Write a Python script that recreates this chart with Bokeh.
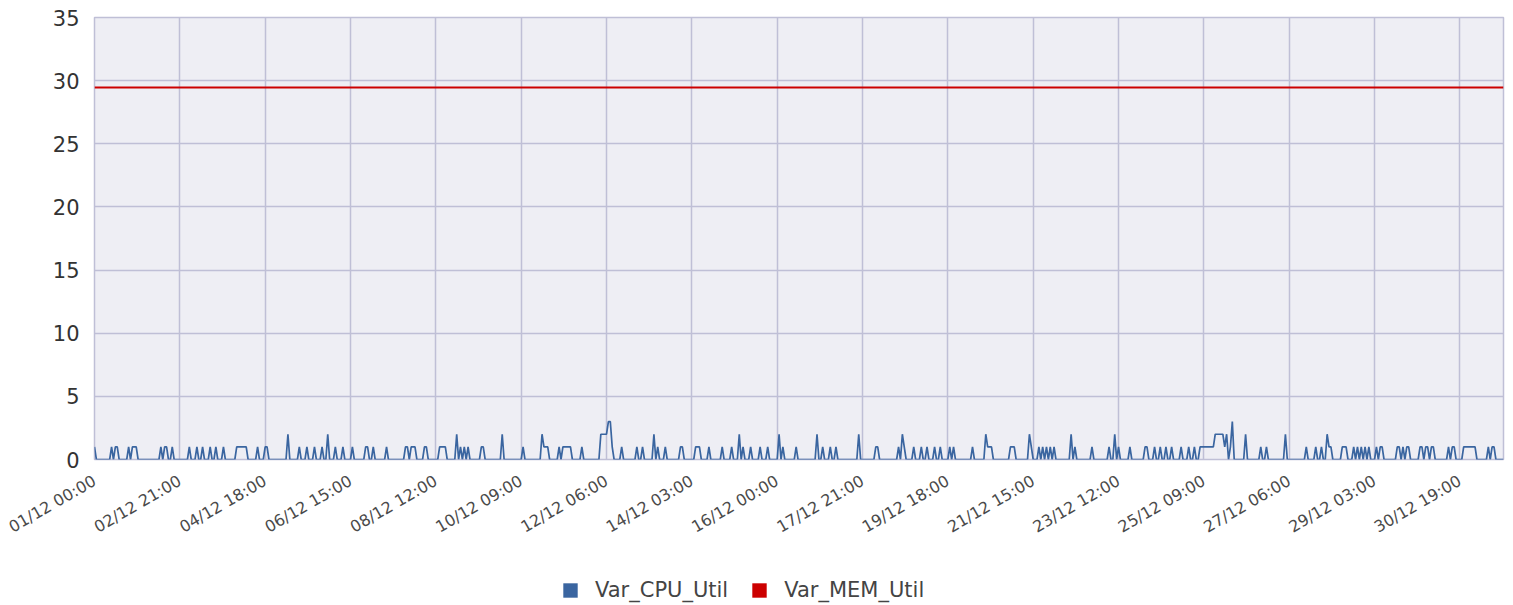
import math
from bokeh.plotting import figure
from bokeh.layouts import column
from bokeh.models import Range1d, FixedTicker, Legend, LegendItem
from bokeh.embed import file_html
from bokeh.resources import INLINE

# ---------------- data ----------------
N_POINTS = 744                      # hourly samples shown on the category axis
cpu_spike_idx = [
    0, 9, 11, 12, 18, 20, 21, 22, 35, 37, 38, 41,
    50, 54, 57, 61, 64, 68, 75, 76, 77, 78, 79, 80, 86, 90, 91,
    102, 108, 112, 116, 120, 123, 127, 131, 136, 143, 144, 147, 154,
    164, 165, 167, 168, 169, 174, 175, 182, 183, 184, 185,
    191, 193, 195, 197, 204, 205, 215, 226, 236, 237, 238, 239, 245,
    247, 248, 249, 250, 251, 257, 267, 268, 269, 270, 271, 272, 273,
    278, 286, 289, 295, 297, 301, 309, 310, 317, 318, 319, 324, 331, 336,
    340, 342, 346, 351, 355, 361, 363, 370, 381, 384, 388, 391, 403,
    412, 413, 424, 426, 427, 432, 436, 439, 443, 446, 451, 453,
    463, 470, 471, 472, 473, 483, 484, 485, 493, 494,
    498, 500, 502, 504, 506, 515, 517, 526, 535, 538, 540, 546,
    554, 555, 559, 562, 565, 568, 573, 577, 580,
    583, 584, 585, 586, 587, 588, 589, 590, 591, 592, 593, 594, 595,
    596, 597, 599, 600, 607, 615, 618, 628, 639, 644, 647, 650, 651, 652,
    658, 659, 660, 664, 666, 668, 670, 672, 676, 678, 679,
    687, 688, 690, 692, 693, 699, 700, 702, 703, 705, 706,
    714, 716, 717, 722, 723, 724, 725, 726, 727, 728, 735, 737, 738,
]
cpu_spike_val = [
    1, 1, 1, 1, 1, 1, 1, 1, 1, 1, 1, 1,
    1, 1, 1, 1, 1, 1, 1, 1, 1, 1, 1, 1, 1, 1, 1,
    2, 1, 1, 1, 1, 2, 1, 1, 1, 1, 1, 1, 1,
    1, 1, 1, 1, 1, 1, 1, 1, 1, 1, 1,
    2, 1, 1, 1, 1, 1, 2, 1, 2, 1, 1, 1, 1,
    1, 1, 1, 1, 1, 1, 2, 2, 2, 2, 3, 3, 1,
    1, 1, 1, 2, 1, 1, 1, 1, 1, 1, 1, 1, 1, 1,
    2, 1, 1, 1, 1, 2, 1, 1, 2, 1, 1, 1, 2,
    1, 1, 1, 2, 1, 1, 1, 1, 1, 1, 1, 1,
    1, 2, 1, 1, 1, 1, 1, 1, 2, 1,
    1, 1, 1, 1, 1, 2, 1, 1, 1, 2, 1, 1,
    1, 1, 1, 1, 1, 1, 1, 1, 1,
    1, 1, 1, 1, 1, 1, 1, 1, 2, 2, 2, 2, 2,
    1, 2, 1, 3, 2, 1, 1, 2, 1, 1, 1, 2, 1, 1,
    1, 1, 1, 1, 1, 1, 1, 1, 1, 1, 1,
    1, 1, 1, 1, 1, 1, 1, 1, 1, 1, 1,
    1, 1, 1, 1, 1, 1, 1, 1, 1, 1, 1, 1, 1,
]
mem_level = 29.45
x_tick_labels = [
    "01/12 00:00", "02/12 21:00", "04/12 18:00", "06/12 15:00",
    "08/12 12:00", "10/12 09:00", "12/12 06:00", "14/12 03:00",
    "16/12 00:00", "17/12 21:00", "19/12 18:00", "21/12 15:00",
    "23/12 12:00", "25/12 09:00", "27/12 06:00", "29/12 03:00",
    "30/12 19:00",
]
x_tick_step = 45                    # one label every 45 samples
y_ticks = [0, 5, 10, 15, 20, 25, 30, 35]
series_names = ["Var_CPU_Util", "Var_MEM_Util"]

# ---------------- build series ----------------
x = list(range(N_POINTS))
cpu = [0.0] * N_POINTS
for i, v in zip(cpu_spike_idx, cpu_spike_val):
    cpu[i] = float(v)
mem = [mem_level] * N_POINTS
x_ticks = [i * x_tick_step for i in range(len(x_tick_labels))]

CPU_COLOR = "#3a65a0"
MEM_COLOR = "#cc0000"
GRID = "#bfbfd6"
FONT = "DejaVu Sans"

# ---------------- main chart ----------------
p = figure(width=1513, height=575,
           x_range=Range1d(0, N_POINTS - 1), y_range=Range1d(0, 35),
           output_backend="svg", toolbar_location=None,
           min_border_left=94, min_border_right=10,
           min_border_top=17, min_border_bottom=116)
p.background_fill_color = "#eeeef4"
p.border_fill_color = "white"
p.outline_line_color = GRID
p.outline_line_width = 1.5

p.line(x, cpu, line_color=CPU_COLOR, line_width=1.7)
p.line(x, mem, line_color=MEM_COLOR, line_width=2)

p.xaxis.ticker = FixedTicker(ticks=x_ticks)
p.xaxis.major_label_overrides = {t: lab for t, lab in zip(x_ticks, x_tick_labels)}
p.xaxis.major_label_orientation = math.pi / 6
p.xaxis.major_label_text_font = FONT
p.xaxis.major_label_text_font_size = "16px"
p.xaxis.major_label_text_color = "#4a4a4a"
p.xaxis.major_label_standoff = 20

p.yaxis.ticker = FixedTicker(ticks=y_ticks)
p.yaxis.major_label_text_font = FONT
p.yaxis.major_label_text_font_size = "21px"
p.yaxis.major_label_text_color = "#333333"
p.yaxis.major_label_standoff = 15

for ax in (p.xaxis, p.yaxis):
    ax.axis_line_color = None
    ax.major_tick_line_color = None
    ax.minor_tick_line_color = None
    ax.major_tick_out = 0
    ax.major_tick_in = 0
    ax.minor_tick_out = 0
    ax.minor_tick_in = 0

p.xgrid.ticker = FixedTicker(ticks=x_ticks)
p.ygrid.ticker = FixedTicker(ticks=y_ticks)
for g in (p.xgrid, p.ygrid):
    g.grid_line_color = GRID
    g.grid_line_width = 1.5

# ---------------- legend strip below the chart ----------------
lg = figure(width=1513, height=30, x_range=Range1d(0, 1), y_range=Range1d(0, 1),
            output_backend="svg", toolbar_location=None,
            x_axis_location=None, y_axis_location=None,
            min_border_left=0, min_border_right=0, min_border_top=0, min_border_bottom=0)
lg.outline_line_color = None
lg.background_fill_color = "white"
lg.border_fill_color = "white"
lg.grid.visible = False

# swatch renderers for the square legend glyphs (degenerate, zero-size boxes)
cpu_box = lg.quad(left=[0], right=[0], top=[0], bottom=[0], fill_color=CPU_COLOR, line_color=None)
mem_box = lg.quad(left=[0], right=[0], top=[0], bottom=[0], fill_color=MEM_COLOR, line_color=None)

legend = Legend(items=[LegendItem(label=series_names[0], renderers=[cpu_box]),
                       LegendItem(label=series_names[1], renderers=[mem_box])],
                orientation="horizontal", location=(467, 3), margin=0,
                padding=0, spacing=22, glyph_width=18, glyph_height=18,
                label_standoff=16, label_text_font=FONT,
                label_text_font_size="21px", label_text_color="#444444",
                border_line_color=None, background_fill_alpha=0)
lg.add_layout(legend)

open("out.html", "w").write(file_html(column(p, lg, spacing=0), INLINE))
